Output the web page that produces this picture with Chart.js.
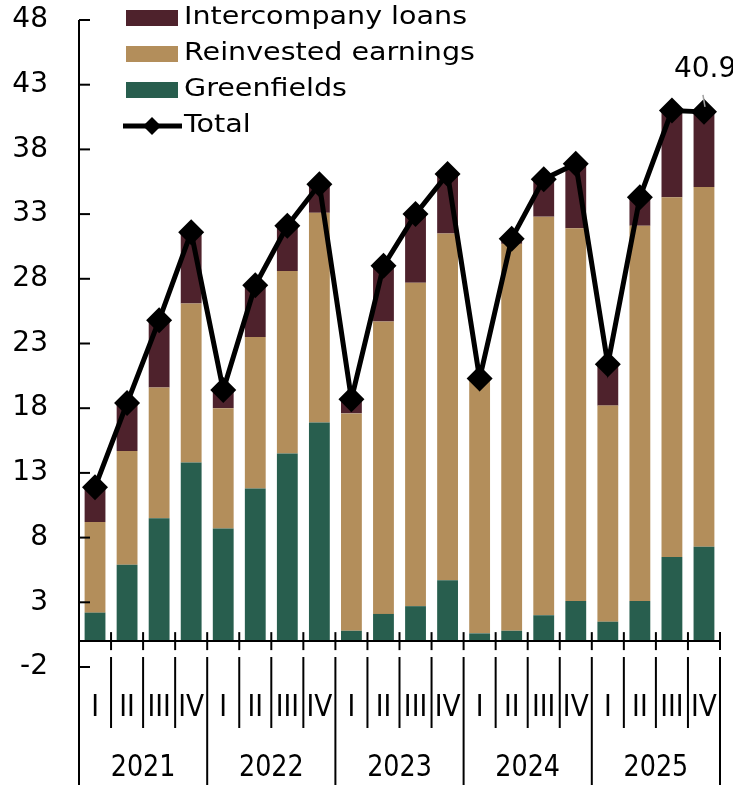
<!DOCTYPE html>
<html>
<head>
<meta charset="utf-8">
<script src="https://cdn.jsdelivr.net/npm/chart.js@4"></script>
<style>
    html, body { margin: 0; padding: 0; background: #fff; }
</style>
</head>
<body>
<canvas id="ChartFdi" width="733" height="785"></canvas>
<script>
const years = ['2021', '2022', '2023', '2024', '2025'];
const quarters = ['I', 'II', 'III', 'IV'];
const categories = years.flatMap(y => quarters.map(q => q + ' ' + y));

const greenfields = [2.2, 5.9, 9.5, 13.8, 8.7, 11.8, 14.5, 16.9, 0.8, 2.1, 2.7, 4.7, 0.6, 0.8, 2.0, 3.1, 1.5, 3.1, 6.5, 7.3];
const reinvested = [7.0, 8.8, 10.1, 12.3, 9.3, 11.7, 14.1, 16.2, 16.8, 22.6, 25.0, 26.8, 19.6, 29.9, 30.8, 28.8, 16.7, 29.0, 27.8, 27.8];
const loans = [2.7, 3.7, 5.2, 5.5, 1.4, 4.0, 3.5, 2.2, 1.1, 4.3, 5.3, 4.6, 0.1, 0.4, 2.9, 5.0, 3.2, 2.2, 6.7, 5.8];
const total = [11.9, 18.4, 24.8, 31.6, 19.4, 27.5, 32.1, 35.3, 18.7, 29.0, 33.0, 36.1, 20.3, 31.1, 35.7, 36.9, 21.4, 34.3, 41.0, 40.9];
const yTicks = [-2, 3, 8, 13, 18, 23, 28, 33, 38, 43, 48];

const colLoans = '#4e222c';
const colReinvested = '#b38e5b';
const colGreen = '#285e4e';
const fontName = '"DejaVu Sans"';

function drawText(ctx, text, x, y, size, sx, align) {
    ctx.save();
    ctx.font = size + 'px ' + fontName;
    ctx.textBaseline = 'middle';
    ctx.textAlign = align || 'center';
    ctx.fillStyle = '#000';
    ctx.translate(x, y);
    ctx.scale(sx, 1);
    ctx.fillText(text, 0, 0);
    ctx.restore();
}

// axes, category labels, legend and the last value label
const decorations = {
    id: 'decorations',
    afterDraw(chart) {
        const ctx = chart.ctx;
        const xs = chart.scales.x;
        const ys = chart.scales.y;
        const area = chart.chartArea;
        const y0 = ys.getPixelForValue(0);
        const step = xs.getPixelForValue(1) - xs.getPixelForValue(0);
        const H = chart.height;

        ctx.save();
        ctx.strokeStyle = '#000';
        ctx.lineWidth = 2;

        // y axis
        ctx.beginPath();
        ctx.moveTo(area.left, area.top);
        ctx.lineTo(area.left, H);
        ctx.stroke();
        yTicks.forEach(v => {
            const y = ys.getPixelForValue(v);
            ctx.beginPath();
            ctx.moveTo(area.left, y);
            ctx.lineTo(area.left + 11, y);
            ctx.stroke();
        });

        // x axis at zero
        ctx.beginPath();
        ctx.moveTo(area.left, y0);
        ctx.lineTo(area.right, y0);
        ctx.stroke();

        for (let i = 1; i <= categories.length; i++) {
            const x = xs.getPixelForValue(i) - step / 2;
            ctx.beginPath();
            ctx.moveTo(x, y0 - 9);
            ctx.lineTo(x, y0 + 9);
            ctx.stroke();
            ctx.beginPath();
            ctx.moveTo(x, area.bottom - 10);
            ctx.lineTo(x, i % 4 === 0 ? H : area.bottom + 61);
            ctx.stroke();
        }
        ctx.restore();

        yTicks.forEach(v => {
            drawText(ctx, String(v), area.left - 31, ys.getPixelForValue(v), 28, 1, 'right');
        });

        categories.forEach((c, i) => {
            drawText(ctx, quarters[i % 4], xs.getPixelForValue(i), area.bottom + 41, 30, 0.88);
        });
        years.forEach((y, j) => {
            const xm = (xs.getPixelForValue(j * 4) + xs.getPixelForValue(j * 4 + 3)) / 2;
            drawText(ctx, y, xm, area.bottom + 101, 31, 0.82);
        });

        // legend
        const rows = [
            ['Intercompany loans', colLoans],
            ['Reinvested earnings', colReinvested],
            ['Greenfields', colGreen],
            ['Total', null]
        ];
        rows.forEach((r, k) => {
            const cy = 18 + k * 36;
            if (r[1]) {
                ctx.fillStyle = r[1];
                ctx.fillRect(126, cy - 8, 52, 16);
            } else {
                ctx.save();
                ctx.strokeStyle = '#000';
                ctx.lineWidth = 5;
                ctx.beginPath();
                ctx.moveTo(123, cy);
                ctx.lineTo(182, cy);
                ctx.stroke();
                ctx.fillStyle = '#000';
                ctx.beginPath();
                ctx.moveTo(152, cy - 9);
                ctx.lineTo(161, cy);
                ctx.lineTo(152, cy + 9);
                ctx.lineTo(143, cy);
                ctx.closePath();
                ctx.fill();
                ctx.restore();
            }
            drawText(ctx, r[0], 184, cy, 24, 1.19, 'left');
        });

        // label for the last total
        const last = chart.getDatasetMeta(0).data[total.length - 1];
        ctx.save();
        ctx.strokeStyle = '#a0a0a0';
        ctx.lineWidth = 1.5;
        ctx.beginPath();
        ctx.moveTo(last.x - 1, last.y - 17);
        ctx.lineTo(last.x + 1, last.y - 5);
        ctx.stroke();
        ctx.restore();
        drawText(ctx, total[total.length - 1].toFixed(1), last.x - 30, last.y - 42, 28, 1, 'left');
    }
};

const chartFdi = document.getElementById('ChartFdi');
new Chart(chartFdi, {
    type: 'bar',
    data: {
        labels: categories,
        datasets: [
            {
                type: 'line',
                label: 'Total',
                data: total,
                borderColor: '#000',
                borderWidth: 5,
                pointStyle: 'rectRot',
                pointRadius: 13,
                pointBackgroundColor: '#000',
                pointBorderColor: '#000',
                pointBorderWidth: 0,
                tension: 0,
                stack: 'total',
                order: 0
            },
            { label: 'Greenfields', data: greenfields, backgroundColor: colGreen, stack: 'fdi', order: 1 },
            { label: 'Reinvested earnings', data: reinvested, backgroundColor: colReinvested, stack: 'fdi', order: 1 },
            { label: 'Intercompany loans', data: loans, backgroundColor: colLoans, stack: 'fdi', order: 1 }
        ]
    },
    options: {
        responsive: false,
        animation: false,
        devicePixelRatio: 1,
        barPercentage: 0.65,
        categoryPercentage: 1,
        layout: { padding: { left: 0, right: 13, top: 20, bottom: 118 } },
        scales: {
            x: { display: false, stacked: true, offset: true },
            y: {
                stacked: true,
                min: -2,
                max: 48,
                afterBuildTicks: scale => { scale.ticks = yTicks.map(v => ({ value: v })); },
                afterFit: scale => { scale.width = 79; },
                grid: { display: false, drawTicks: false },
                border: { display: false },
                ticks: { display: false }
            }
        },
        plugins: {
            legend: { display: false },
            tooltip: { enabled: false }
        }
    },
    plugins: [decorations]
});
</script>
</body>
</html>
